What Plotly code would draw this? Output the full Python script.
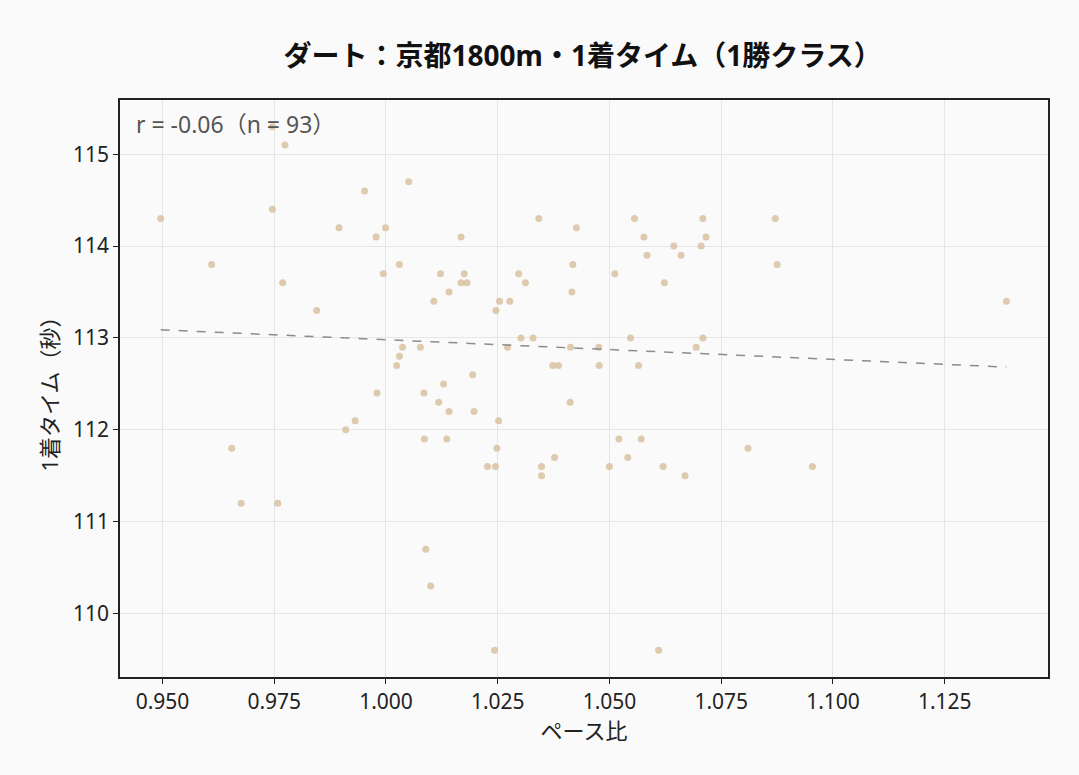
import numpy as np
import plotly.graph_objects as go

# ペース比 と 1着タイム（秒）
pace_ratio = [
    0.9746, 0.9774, 0.9496, 0.9610, 0.9746, 0.9769, 0.9845, 0.9952, 1.0051, 0.9895,
    0.9978, 0.9999, 1.0030, 0.9994, 1.0107,
    1.0122, 1.0141, 1.0168, 1.0175, 1.0168, 1.0181, 1.0246, 1.0254, 1.0277, 1.0297,
    1.0312, 1.0342, 1.0426, 1.0418, 1.0416, 1.0512, 1.0556, 1.0577, 1.0584, 1.0623,
    1.0644, 1.0660, 1.0709, 1.0716, 1.0705,
    1.0871, 1.0875, 1.1388,
    1.0037, 1.0077, 1.0030, 1.0024, 0.9980, 1.0085, 1.0118, 0.9931, 0.9910, 1.0086,
    0.9655, 0.9676, 0.9758,
    1.0302, 1.0329, 1.0272, 1.0413, 1.0476, 1.0547, 1.0709, 1.0694, 1.0373, 1.0386,
    1.0477, 1.0565, 1.0194, 1.0129, 1.0412, 1.0141, 1.0197, 1.0252, 1.0136, 1.0248,
    1.0227, 1.0245, 1.0348, 1.0348, 1.0377, 1.0500, 1.0521, 1.0571, 1.0541, 1.0620,
    1.0669,
    1.0810, 1.0954,
    1.0089, 1.0100, 1.0243, 1.0610,
]
win_time = [
    115.3, 115.1, 114.3, 113.8, 114.4, 113.6, 113.3, 114.6, 114.7, 114.2,
    114.1, 114.2, 113.8, 113.7, 113.4,
    113.7, 113.5, 114.1, 113.7, 113.6, 113.6, 113.3, 113.4, 113.4, 113.7,
    113.6, 114.3, 114.2, 113.8, 113.5, 113.7, 114.3, 114.1, 113.9, 113.6,
    114.0, 113.9, 114.3, 114.1, 114.0,
    114.3, 113.8, 113.4,
    112.9, 112.9, 112.8, 112.7, 112.4, 112.4, 112.3, 112.1, 112.0, 111.9,
    111.8, 111.2, 111.2,
    113.0, 113.0, 112.9, 112.9, 112.9, 113.0, 113.0, 112.9, 112.7, 112.7,
    112.7, 112.7, 112.6, 112.5, 112.3, 112.2, 112.2, 112.1, 111.9, 111.8,
    111.6, 111.6, 111.6, 111.5, 111.7, 111.6, 111.9, 111.9, 111.7, 111.6,
    111.5,
    111.8, 111.6,
    110.7, 110.3, 109.6, 109.6,
]

x = np.array(pace_ratio)
y = np.array(win_time)
r = np.corrcoef(x, y)[0, 1]
slope, intercept = np.polyfit(x, y, 1)
line_x = np.array([x.min(), x.max()])
line_y = slope * line_x + intercept

font = "Noto Sans, Noto Sans CJK JP"

fig = go.Figure()
fig.add_trace(go.Scatter(
    x=x, y=y, mode="markers",
    marker=dict(size=7, color="rgba(214,188,152,0.78)", line=dict(width=0)),
    showlegend=False,
))
fig.add_trace(go.Scatter(
    x=line_x, y=line_y, mode="lines",
    line=dict(color="#8c8c8c", width=1.5, dash="dash"),
    showlegend=False,
))

fig.add_annotation(
    x=0, y=1, xref="paper", yref="paper", xanchor="left", yanchor="top",
    xshift=14, yshift=-6, showarrow=False,
    text=f"r = {r:.2f}（n = {len(x)}）",
    font=dict(family=font, size=23, color="#555555"),
)

axis_common = dict(
    showline=True, linecolor="#222222", linewidth=1.5, mirror=True,
    showgrid=True, gridcolor="#e6e6e6", gridwidth=1,
    ticks="outside", ticklen=5, tickcolor="#222222",
    tickfont=dict(family=font, size=21, color="#222222"),
    zeroline=False,
)

fig.update_layout(
    width=1079, height=775,
    paper_bgcolor="#fafafa", plot_bgcolor="#fafafa",
    margin=dict(l=120, r=31, t=100, b=98),
    title=dict(
        text="<b>ダート：京都1800m・1着タイム（1勝クラス）</b>",
        x=0.54, xanchor="center", y=0.928, yanchor="middle",
        font=dict(family=font, size=28, color="#111111"),
    ),
    xaxis=dict(
        axis_common, range=[0.9405, 1.1481], dtick=0.025, tick0=0.95,
        tickformat=".3f",
        title=dict(text="ペース比", font=dict(family=font, size=22, color="#222222"), standoff=4),
    ),
    yaxis=dict(
        axis_common, range=[109.31, 115.59], dtick=1,
        title=dict(text="1着タイム（秒）", font=dict(family=font, size=22, color="#222222"), standoff=8),
    ),
)

fig.write_html("out.html", config={"displayModeBar": False},
               post_script="document.body.style.margin='0px';")
